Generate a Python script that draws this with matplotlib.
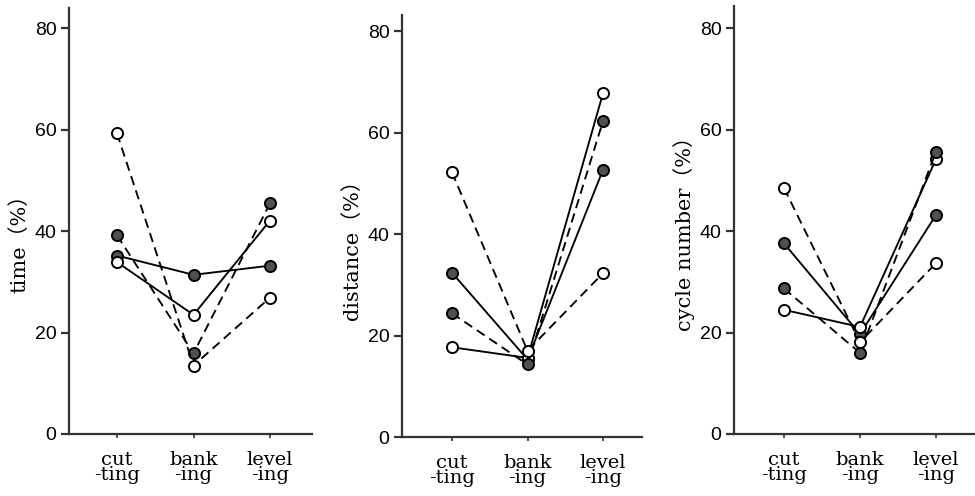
import matplotlib
matplotlib.use("Agg")
import matplotlib.pyplot as plt

categories = ["cut\n-ting", "bank\n-ing", "level\n-ing"]
ylabels = ["time（%）", "distance（%）", "cycle number（%）"]
yticks = [0, 20, 40, 60, 80]

# series per panel: filled-solid, open-solid, filled-dashed, open-dashed
time_filled_solid = [35.2, 31.4, 33.2]
time_open_solid = [33.9, 23.5, 42.1]
time_filled_dashed = [39.2, 15.9, 45.5]
time_open_dashed = [59.3, 13.5, 26.9]

dist_filled_solid = [32.4, 15.3, 52.7]
dist_open_solid = [17.7, 15.6, 67.8]
dist_filled_dashed = [24.4, 14.3, 62.3]
dist_open_dashed = [52.2, 17.0, 32.3]

cyc_filled_solid = [37.6, 19.7, 43.2]
cyc_open_solid = [24.5, 21.1, 54.2]
cyc_filled_dashed = [28.7, 16.0, 55.7]
cyc_open_dashed = [48.5, 18.1, 33.7]

panels = [
    (time_filled_solid, time_open_solid, time_filled_dashed, time_open_dashed),
    (dist_filled_solid, dist_open_solid, dist_filled_dashed, dist_open_dashed),
    (cyc_filled_solid, cyc_open_solid, cyc_filled_dashed, cyc_open_dashed),
]

W, H = 975, 496
fig = plt.figure(figsize=(W / 100, H / 100), dpi=100)

# (left px, right px, bottom px, top px, tick0 px, tick spacing px)
geom = [
    (69, 312, 434, 8, 117, 76.5),
    (402, 642, 437, 15, 452, 75.5),
    (734, 975, 434, 6, 784, 76.0),
]
label_pos = [(-0.165, 0.46), (-0.165, 0.455), (-0.16, 0.48)]

FILL = "#505050"
dash = (0, (5, 3))
styles = [
    dict(ls="-", mfc=FILL),
    dict(ls="-", mfc="white"),
    dict(ls=dash, mfc=FILL),
    dict(ls=dash, mfc="white"),
]

x = list(range(len(categories)))
pxu = 405.6 / 80.0
for i, (series, (l, r, b, t, t0, sp)) in enumerate(zip(panels, geom)):
    ax = fig.add_axes([l / W, (H - b) / H, (r - l) / W, (b - t) / H])
    for vals, st in zip(series, styles):
        ax.plot(x, vals, color="black", lw=1.35, linestyle=st["ls"],
                marker="o", ms=8, mfc=st["mfc"], mec="black", mew=1.4,
                zorder=3, clip_on=False)
    ax.set_xlim(-(t0 - l) / sp, (r - t0) / sp)
    ax.set_ylim(0, (b - t) / pxu)
    ax.set_xticks(x)
    ax.set_xticklabels(categories, family="DejaVu Serif", fontsize=14,
                       linespacing=0.82)
    ax.set_yticks(yticks)
    ax.set_yticklabels([str(v) for v in yticks], family="Liberation Sans",
                       fontsize=14)
    for s in ("top", "right"):
        ax.spines[s].set_visible(False)
    for s in ("left", "bottom"):
        ax.spines[s].set_linewidth(1.6)
        ax.spines[s].set_color("#333333")
    ax.tick_params(axis="y", direction="out", length=6, width=1.6, pad=3,
                   color="#333333")
    ax.tick_params(axis="x", direction="out", length=3, width=1.2, pad=9,
                   color="#333333")
    ax.set_ylabel(ylabels[i], family=["DejaVu Serif", "Noto Sans CJK JP"],
                  fontsize=15)
    ax.yaxis.set_label_coords(*label_pos[i])

fig.savefig("out.png", dpi=100)
